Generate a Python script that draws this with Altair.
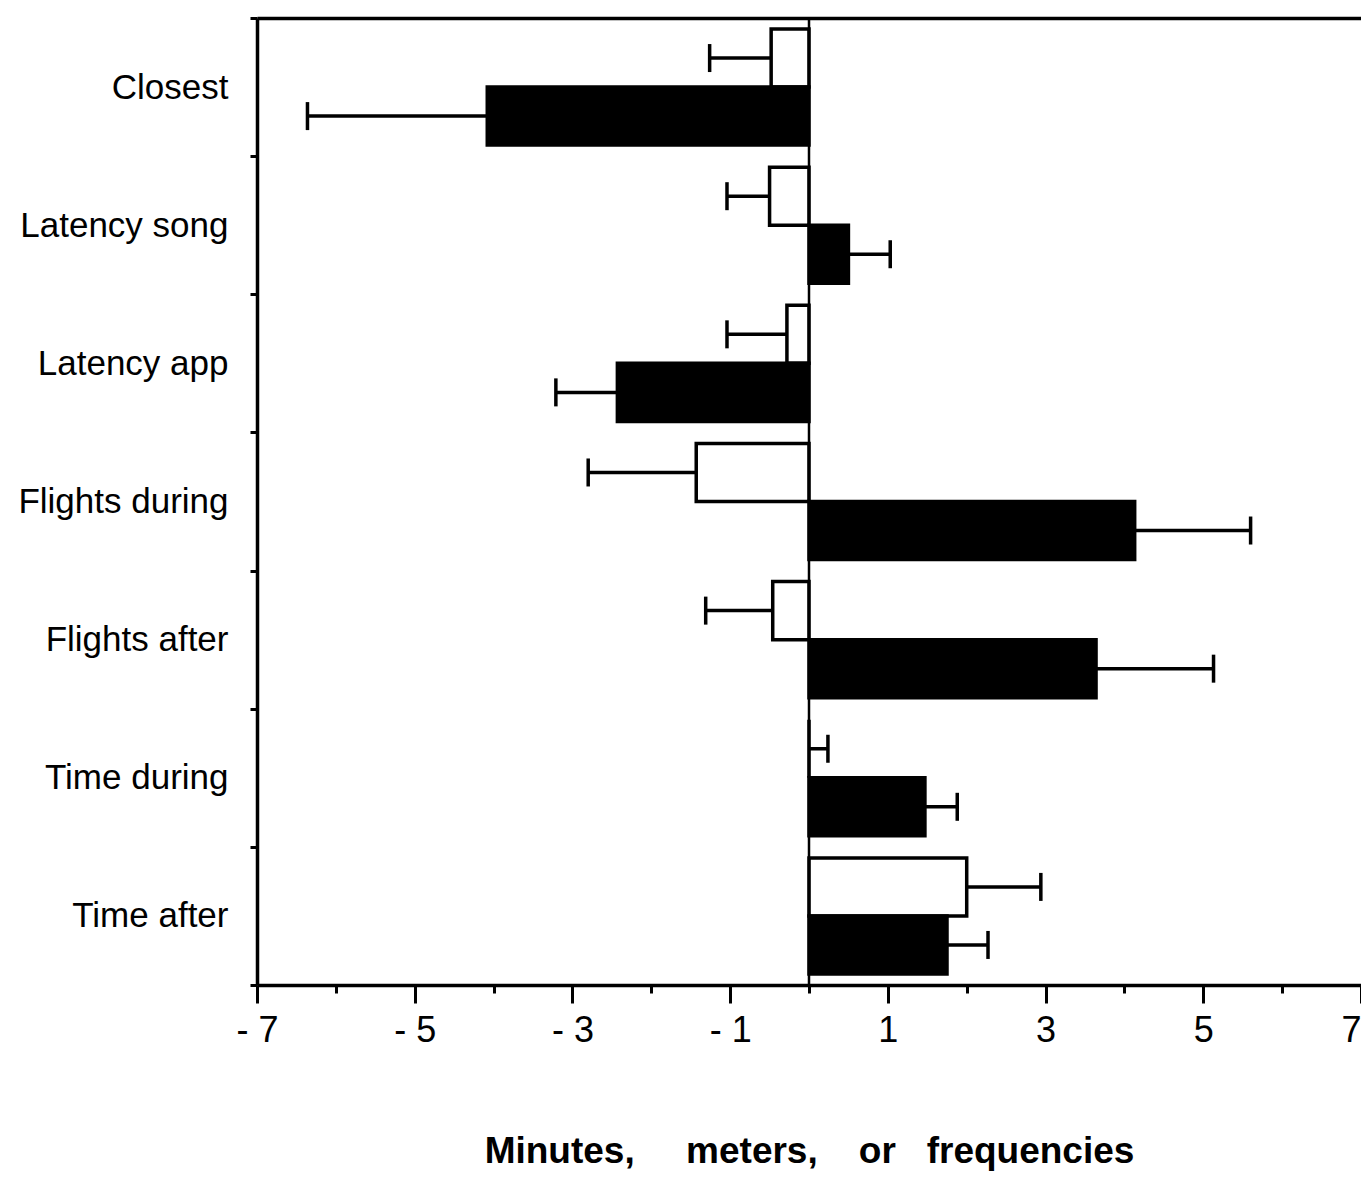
import altair as alt
import pandas as pd

categories = ["Closest", "Latency song", "Latency app", "Flights during",
              "Flights after", "Time during", "Time after"]
groups = ["open", "filled"]
open_values = [-0.48, -0.50, -0.28, -1.43, -0.46, 0.00, 2.00]
open_errors = [0.78, 0.54, 0.76, 1.37, 0.85, 0.24, 0.94]
filled_values = [-4.08, 0.50, -2.43, 4.13, 3.64, 1.47, 1.75]
filled_errors = [2.28, 0.53, 0.78, 1.47, 1.49, 0.41, 0.52]
x_ticks = list(range(-7, 8))

rows = []
for grp, vals, errs in [("open", open_values, open_errors),
                        ("filled", filled_values, filled_errors)]:
    for c, v, e in zip(categories, vals, errs):
        sign = -1 if v < 0 else 1
        rows.append({"cat": c, "group": grp, "value": v, "base": 0.0,
                     "end": v + sign * e})
df = pd.DataFrame(rows)
zero_df = pd.DataFrame({"zero": [0.0]})

FONT = "Liberation Sans"
NB = "\u00a0"
x_title = "Minutes," + NB * 5 + "meters," + NB * 4 + "or" + NB * 3 + "frequencies"

x_scale = alt.Scale(domain=[-7, 7], nice=False)
x_axis = alt.Axis(
    values=x_ticks,
    labelExpr="datum.value % 2 != 0 ? (datum.value < 0 ? '- ' + abs(datum.value) : '' + datum.value) : ''",
    labelAlign={"condition": {"test": "datum.value >= 7", "value": "right"}, "value": "center"},
    tickSize={"condition": {"test": "datum.value % 2 == 0", "value": 8}, "value": 18},
    tickWidth=3, tickColor="black", domainWidth=3.5, domainColor="black",
    labelFont=FONT, labelFontSize=36, labelColor="black", labelPadding=10,
    labelFlush=False, labelOverlap=False, grid=False,
    title=x_title,
    titleFont=FONT, titleFontSize=37, titleFontWeight="bold", titleColor="black",
    titlePadding=85,
)
top_axis = alt.Axis(orient="top", labels=False, ticks=False, title=None,
                    domainWidth=3.5, domainColor="black", grid=False)
y_enc = alt.Y("cat:N", sort=categories,
              scale=alt.Scale(paddingInner=0, paddingOuter=0),
              axis=alt.Axis(title=None, tickBand="extent", tickSize=7, tickWidth=3,
                            tickColor="black", domainWidth=3.5, domainColor="black",
                            labelFont=FONT, labelFontSize=35, labelColor="black",
                            labelPadding=22, labelLimit=0, grid=False))
yoff_enc = alt.YOffset("group:N", sort=groups,
                       scale=alt.Scale(paddingInner=0, paddingOuter=0.19))

bars = alt.Chart(df).mark_bar(stroke="black", strokeWidth=3.5, opacity=1).encode(
    x=alt.X("value:Q", scale=x_scale, axis=x_axis),
    x2="base:Q",
    y=y_enc,
    yOffset=yoff_enc,
    fill=alt.Fill("group:N", scale=alt.Scale(domain=groups, range=["white", "black"]),
                  legend=None),
)

err_lines = alt.Chart(df).mark_rule(color="black", strokeWidth=3.5, opacity=1).encode(
    x=alt.X("value:Q", scale=x_scale, axis=None), x2="end:Q",
    y=y_enc, yOffset=yoff_enc)

caps = alt.Chart(df).mark_tick(color="black", thickness=3.5, size=28,
                               orient="vertical", opacity=1).encode(
    x=alt.X("end:Q", scale=x_scale, axis=None), y=y_enc, yOffset=yoff_enc)

zero_line = alt.Chart(zero_df).mark_rule(color="black", strokeWidth=2.5).encode(
    x=alt.X("zero:Q", scale=x_scale, axis=top_axis))

chart = alt.layer(bars, zero_line, err_lines, caps).resolve_axis(
    x="independent"
).properties(
    width=1104, height=967,
    autosize=alt.AutoSizeParams(type="none"),
    padding={"left": 249, "top": 10, "right": 0, "bottom": 186},
).configure(background="white").configure_view(stroke=None)

chart.save("out.html", embed_options={"renderer": "svg", "actions": False})
